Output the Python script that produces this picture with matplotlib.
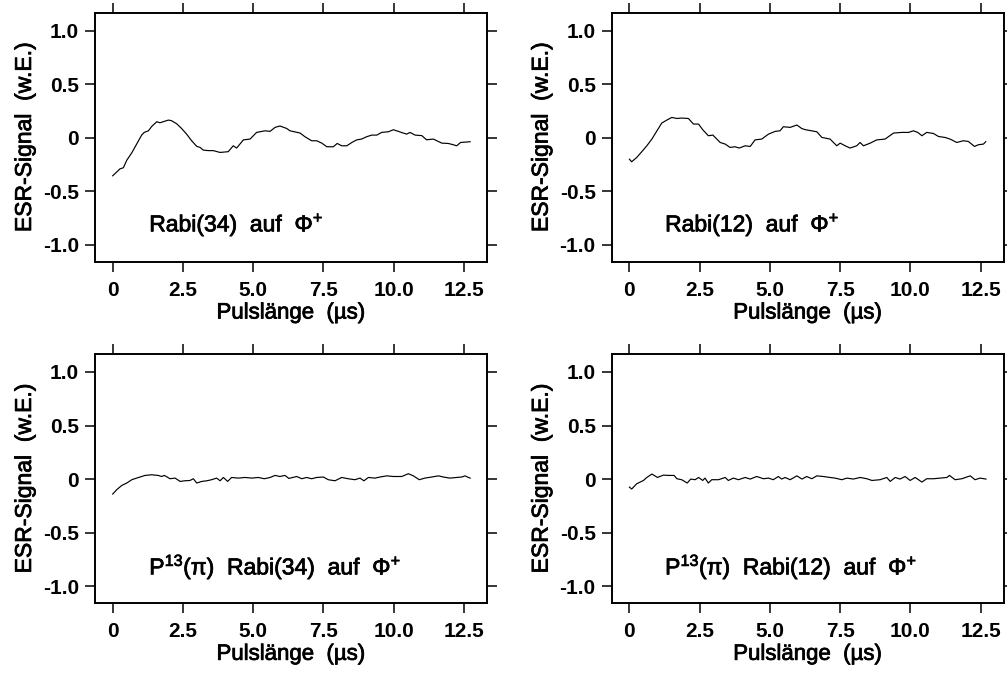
import matplotlib
matplotlib.use("Agg")
import matplotlib.pyplot as plt
import matplotlib.patheffects as pe
from matplotlib.ticker import FixedLocator, FixedFormatter

plt.rcParams['font.family'] = ['Liberation Sans', 'DejaVu Sans']
plt.rcParams['mathtext.fontset'] = 'custom'
plt.rcParams['mathtext.rm'] = 'Liberation Sans'
plt.rcParams['mathtext.it'] = 'Liberation Sans:italic'
plt.rcParams['mathtext.bf'] = 'Liberation Sans:bold'

# ---------------- data ----------------
t_rabi34 = [0.00, 0.14, 0.26, 0.38, 0.50, 0.68, 0.85, 1.03, 1.12, 1.27, 1.39, 1.57, 1.68, 1.80,
            1.98, 2.09, 2.28, 2.45, 2.63, 2.81, 2.99, 3.11, 3.22, 3.40, 3.58, 3.82, 4.11, 4.29,
            4.41, 4.65, 4.89, 5.12, 5.42, 5.60, 5.78, 5.95, 6.19, 6.31, 6.67, 6.84, 7.08, 7.26,
            7.44, 7.62, 7.85, 7.99, 8.15, 8.33, 8.51, 8.68, 8.86, 9.04, 9.22, 9.40, 9.57, 9.81,
            9.99, 10.16, 10.34, 10.46, 10.58, 10.76, 11.00, 11.17, 11.41, 11.71, 11.94, 12.12,
            12.24, 12.38, 12.72]
v_rabi34 = [-0.355, -0.32, -0.29, -0.28, -0.21, -0.14, -0.06, 0.025, 0.05, 0.065, 0.106, 0.15,
            0.14, 0.15, 0.165, 0.16, 0.13, 0.087, 0.034, -0.028, -0.08, -0.09, -0.115, -0.12,
            -0.12, -0.137, -0.13, -0.075, -0.096, -0.02, -0.012, 0.05, 0.065, 0.06, 0.097, 0.11,
            0.087, 0.065, 0.044, 0.01, -0.028, -0.028, -0.05, -0.084, -0.084, -0.053, -0.075,
            -0.075, -0.044, -0.02, -0.012, 0.01, 0.025, 0.025, 0.05, 0.056, 0.075, 0.06, 0.044,
            0.034, 0.05, 0.025, 0.02, -0.019, -0.012, -0.05, -0.053, -0.065, -0.075, -0.044,
            -0.037]

t_rabi12 = [0.00, 0.08, 0.26, 0.44, 0.62, 0.80, 0.98, 1.15, 1.33, 1.51, 1.69, 1.86, 2.10, 2.28,
            2.46, 2.61, 2.81, 2.97, 3.11, 3.23, 3.41, 3.58, 3.76, 3.91, 4.12, 4.30, 4.47, 4.71,
            4.95, 5.19, 5.36, 5.48, 5.72, 5.96, 6.13, 6.25, 6.67, 6.85, 7.14, 7.38, 7.50, 7.68,
            7.85, 8.09, 8.21, 8.33, 8.57, 8.80, 9.10, 9.40, 9.69, 9.93, 10.11, 10.26, 10.41,
            10.58, 10.82, 11.00, 11.23, 11.41, 11.65, 11.88, 12.06, 12.28, 12.42, 12.60, 12.68]
v_rabi12 = [-0.20, -0.224, -0.184, -0.13, -0.075, -0.012, 0.065, 0.137, 0.165, 0.19, 0.18,
            0.184, 0.18, 0.128, 0.128, 0.075, 0.019, 0.025, -0.012, -0.044, -0.059, -0.09,
            -0.084, -0.096, -0.075, -0.081, -0.02, -0.012, 0.034, 0.06, 0.065, 0.103, 0.097,
            0.119, 0.087, 0.076, 0.056, 0.003, -0.012, -0.075, -0.05, -0.075, -0.096, -0.075,
            -0.044, -0.075, -0.05, -0.02, -0.012, 0.044, 0.05, 0.05, 0.065, 0.05, 0.019, 0.05,
            0.04, 0.012, 0.003, -0.012, -0.044, -0.028, -0.034, -0.081, -0.065, -0.059, -0.037]

t_p13_rabi34 = [0.00, 0.14, 0.32, 0.50, 0.68, 0.85, 0.97, 1.15, 1.39, 1.62, 1.74, 1.84, 2.04,
                2.22, 2.40, 2.57, 2.75, 2.87, 2.99, 3.17, 3.35, 3.52, 3.70, 3.82, 3.94, 4.09,
                4.23, 4.47, 4.71, 4.95, 5.18, 5.40, 5.60, 5.78, 5.95, 6.13, 6.27, 6.55, 6.73,
                6.90, 7.08, 7.26, 7.50, 7.67, 7.91, 8.15, 8.38, 8.62, 8.80, 8.94, 9.10, 9.33,
                9.51, 9.75, 9.99, 10.29, 10.52, 10.70, 10.91, 11.11, 11.35, 11.59, 11.77, 12.00,
                12.24, 12.42, 12.54, 12.66, 12.72]
v_p13_rabi34 = [-0.14, -0.10, -0.06, -0.037, -0.006, 0.009, 0.019, 0.034, 0.04, 0.034, 0.024,
                0.034, 0.003, 0.009, -0.022, -0.016, -0.013, 0.003, -0.037, -0.022, -0.016,
                -0.006, 0.009, -0.016, 0.015, -0.022, 0.015, 0.009, 0.015, 0.009, 0.015, 0.003,
                0.015, 0.034, 0.024, 0.034, 0.006, 0.024, 0.003, 0.015, 0.003, 0.015, 0.019,
                -0.006, -0.016, 0.015, 0.003, -0.006, 0.009, -0.016, 0.015, 0.009, 0.019, 0.03,
                0.024, 0.024, 0.05, 0.03, -0.006, 0.009, 0.019, 0.03, 0.019, 0.009, 0.015,
                0.019, 0.03, 0.015, 0.009]

t_p13_rabi12 = [0.00, 0.08, 0.26, 0.50, 0.62, 0.80, 1.00, 1.21, 1.39, 1.59, 1.69, 1.86, 2.06,
                2.18, 2.34, 2.46, 2.61, 2.69, 2.81, 2.93, 3.17, 3.41, 3.52, 3.70, 3.88, 4.12,
                4.30, 4.53, 4.77, 4.95, 5.12, 5.30, 5.42, 5.54, 5.72, 5.96, 6.14, 6.31, 6.49,
                6.67, 6.90, 7.14, 7.32, 7.56, 7.74, 7.97, 8.21, 8.45, 8.63, 8.92, 9.16, 9.28,
                9.46, 9.63, 9.81, 9.99, 10.17, 10.41, 10.58, 10.82, 11.06, 11.30, 11.39, 11.59,
                11.83, 12.13, 12.30, 12.48, 12.69]
v_p13_rabi12 = [-0.075, -0.093, -0.044, -0.013, 0.015, 0.047, 0.015, 0.037, 0.034, 0.034,
                0.003, -0.006, -0.037, 0.0, -0.006, 0.015, -0.013, 0.009, -0.037, -0.006,
                -0.006, 0.015, -0.013, 0.009, -0.006, 0.015, 0.0, 0.024, 0.003, 0.009, -0.006,
                0.024, 0.0, 0.015, -0.006, 0.03, 0.0, 0.024, 0.003, 0.03, 0.024, 0.015, 0.009,
                -0.006, 0.009, 0.0, 0.015, 0.003, -0.013, -0.006, 0.015, -0.022, 0.015, 0.0,
                0.024, -0.013, 0.015, -0.028, 0.003, 0.003, 0.009, 0.015, 0.034, -0.006, 0.003,
                0.03, -0.006, 0.009, 0.0]

panel_labels = ["Rabi(34)  auf  Φ$^{+}$",
                "Rabi(12)  auf  Φ$^{+}$",
                "P$^{13}$(π)  Rabi(34)  auf  Φ$^{+}$",
                "P$^{13}$(π)  Rabi(12)  auf  Φ$^{+}$"]

x_ticks = [0, 2.5, 5.0, 7.5, 10.0, 12.5]
x_ticklabels = ["0", "2.5", "5.0", "7.5", "10.0", "12.5"]
y_ticks = [1.0, 0.5, 0, -0.5, -1.0]
y_ticklabels = ["1.0", "0.5", "0", "-0.5", "-1.0"]

x_label = "Pulslänge  (µs)"
y_label = "ESR-Signal  (w.E.)"

# ---------------- figure ----------------
fig = plt.figure(figsize=(10.07, 6.73), dpi=100)

W, H = 1007.0, 673.0
ax_w = (487 - 95) / W
ax_h = (262 - 13) / H
positions = [
    (95 / W, 1 - 262 / H),
    (611.7 / W, 1 - 262 / H),
    (95 / W, 1 - 603.3 / H),
    (611.7 / W, 1 - 603.3 / H),
]
series = [(t_rabi34, v_rabi34), (t_rabi12, v_rabi12),
          (t_p13_rabi34, v_p13_rabi34), (t_p13_rabi12, v_p13_rabi12)]
label_pos = [(1.30, -0.875), (1.27, -0.875), (1.30, -0.89), (1.27, -0.89)]

thick = [pe.withStroke(linewidth=0.55, foreground='black')]

for i, ((l, b), (t, v)) in enumerate(zip(positions, series)):
    ax = fig.add_axes([l, b, ax_w, ax_h])
    ax.plot(t, v, color='black', lw=0.85)
    ax.set_xlim(-0.63, 13.32)
    ax.set_ylim(-1.16, 1.165)
    ax.xaxis.set_major_locator(FixedLocator(x_ticks))
    ax.xaxis.set_major_formatter(FixedFormatter(x_ticklabels))
    ax.yaxis.set_major_locator(FixedLocator(y_ticks))
    ax.yaxis.set_major_formatter(FixedFormatter(y_ticklabels))
    ax.tick_params(axis='both', which='major', direction='out', length=7.5, width=1.1,
                   top=True, right=True, labelsize=15, color='black')
    ax.tick_params(axis='x', pad=6)
    ax.tick_params(axis='y', pad=4)
    for lab in ax.get_xticklabels() + ax.get_yticklabels():
        lab.set_fontweight('bold')
    for sp in ax.spines.values():
        sp.set_linewidth(1.4)
    ax.set_xlabel(x_label, fontsize=16, labelpad=2, path_effects=thick)
    ax.set_ylabel(y_label, fontsize=16.5, labelpad=5, path_effects=thick)
    lx, ly = label_pos[i]
    ax.text(lx, ly, panel_labels[i], fontsize=16.5, va='baseline', ha='left',
            path_effects=thick)

fig.savefig("out.png", dpi=100)
